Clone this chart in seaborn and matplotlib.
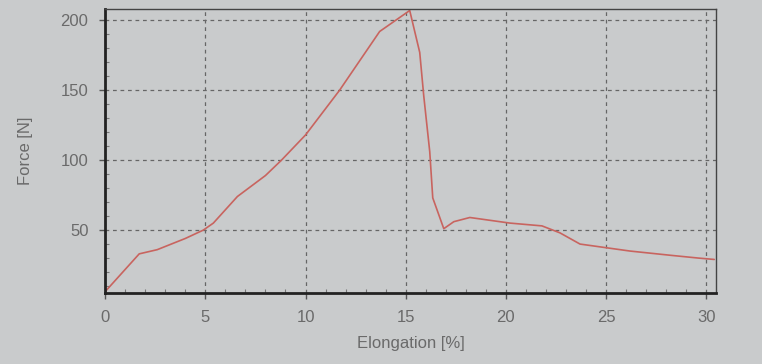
import matplotlib
matplotlib.use("Agg")
import matplotlib.pyplot as plt
from matplotlib.ticker import MultipleLocator
import seaborn as sns
import pandas as pd

elongation = [0.0, 1.7, 2.6, 4.0, 4.9, 5.4, 6.6, 8.0, 8.8, 10.0, 11.7, 13.7, 15.2,
              15.7, 15.9, 16.2, 16.35, 16.9, 17.4, 18.2, 20.2, 21.8, 22.7, 23.7,
              25.2, 26.2, 28.2, 29.6, 30.4]
force = [6, 33, 36, 44, 50, 55, 74, 89, 100, 118, 150, 192, 207,
         177, 146, 106, 73, 51, 56, 59, 55, 53, 48, 40,
         37, 35, 32, 30, 29]

df = pd.DataFrame({"Elongation [%]": elongation, "Force [N]": force})

bg = "#c9cbcc"
sns.set_style("ticks", {"axes.facecolor": bg, "figure.facecolor": bg})
plt.rcParams["font.family"] = ["Liberation Sans", "DejaVu Sans"]

fig = plt.figure(figsize=(7.62, 3.64), dpi=100)
ax = fig.add_axes([0.138, 0.195, 0.802, 0.78])

sns.lineplot(data=df, x="Elongation [%]", y="Force [N]", ax=ax,
             color="#c8645f", linewidth=1.2, sort=False)

ax.set_xlim(0, 30.5)
ax.set_ylim(5, 208)
ax.xaxis.set_major_locator(MultipleLocator(5))
ax.yaxis.set_major_locator(MultipleLocator(50))
ax.xaxis.set_minor_locator(MultipleLocator(1))
ax.yaxis.set_minor_locator(MultipleLocator(10))
ax.tick_params(which="major", direction="out", length=4, width=1,
               color="#555555", labelcolor="#6a6a6a", labelsize=12, pad=8)
ax.tick_params(which="minor", direction="in", length=3, width=0.8, color="#777777")
ax.grid(True, which="major", linestyle=(0, (3, 3)), color="#666666", linewidth=0.9)

for side in ["left", "bottom"]:
    ax.spines[side].set_linewidth(2)
    ax.spines[side].set_color("#222222")
for side in ["top", "right"]:
    ax.spines[side].set_visible(True)
    ax.spines[side].set_linewidth(1)
    ax.spines[side].set_color("#444444")

ax.set_xlabel("Elongation [%]", color="#6a6a6a", fontsize=12, labelpad=8)
ax.set_ylabel("Force [N]", color="#6a6a6a", fontsize=12, labelpad=20)

fig.savefig("out.png", dpi=100)
